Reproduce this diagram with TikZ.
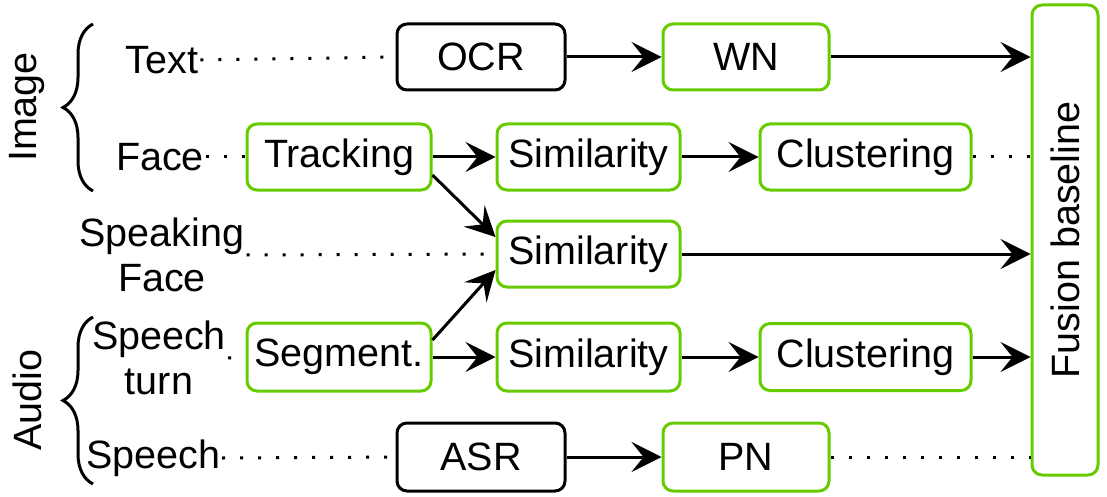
\documentclass[tikz,border=0pt]{standalone}
\usepackage{fontspec}
\setmainfont{Liberation Sans}
\usetikzlibrary{arrows.meta,decorations.pathreplacing}
\definecolor{bgreen}{HTML}{66CC00}
\begin{document}
\begin{tikzpicture}[x=1pt,y=-1pt,
  every node/.style={font=\fontsize{39.5}{45}\selectfont, inner sep=2pt},
  box/.style={draw, line width=3pt, rounded corners=10pt, inner sep=0pt},
  gbox/.style={box, draw=bgreen},
  kbox/.style={box, draw=black},
  arr/.style={line width=3pt, -{Stealth[length=30pt,width=30pt,inset=12pt]}},
  dots/.style={line width=3pt, dash pattern=on 3pt off 15pt},
  brc/.style={decorate, decoration={brace, amplitude=30pt}, line width=3pt}]
\useasboundingbox (0,0) rectangle (1107,497);
% boxes
\node[kbox, minimum width=168pt, minimum height=66pt] (ocr) at (481,57) {OCR};
\node[gbox, minimum width=166pt, minimum height=66pt] (wn) at (746,57) {WN};
\node[gbox, minimum width=184pt, minimum height=66pt] (trk) at (339,157) {Tracking};
\node[gbox, minimum width=183pt, minimum height=66pt] (sim2) at (588.5,157) {Similarity};
\node[gbox, minimum width=211pt, minimum height=66pt] (cl2) at (865.5,157) {Clustering};
\node[gbox, minimum width=183pt, minimum height=66pt] (sim3) at (588.5,254) {Similarity};
\node[gbox, minimum width=184pt, minimum height=68pt] (seg) at (339,357) {Segment.};
\node[gbox, minimum width=183pt, minimum height=68pt] (sim4) at (588.5,357) {Similarity};
\node[gbox, minimum width=211pt, minimum height=67pt] (cl4) at (865.5,357) {Clustering};
\node[kbox, minimum width=168pt, minimum height=68pt] (asr) at (481,457) {ASR};
\node[gbox, minimum width=166pt, minimum height=68pt] (pn) at (746,457) {PN};
\node[gbox, minimum width=66pt, minimum height=470pt] (fus) at (1065,240) {\rotatebox{90}{Fusion baseline}};
% left labels
\node (txt) at (162,60) {Text};
\node (face) at (160,157) {Face};
\node[align=center] (sf) at (162,255) {Speaking\\Face};
\node[align=center] (st) at (159,358) {Speech\\turn};
\node (sp) at (153,458) {Speech};
\node[rotate=90] (img) at (27,107) {Image};
\node[rotate=90] (aud) at (27,400) {Audio};
% braces
\coordinate (ib1) at (93,191);
\coordinate (ib2) at (93,24);
\coordinate (ab1) at (93,484);
\coordinate (ab2) at (93,317);
\draw[brc] (ib1) -- (ib2);
\draw[brc] (ab1) -- (ab2);
% dotted
\draw[dots] (txt.east) -- (ocr.west);
\draw[dots] (face.east) -- (trk.west);
\draw[dots] (sf.east) -- (sim3.west);
\draw[dots] (st.east) -- (seg.west);
\draw[dots] (sp.east) -- (asr.west);
\draw[dots] (cl2.east) -- (cl2.east -| fus.west);
\draw[dots] (pn.east) -- (pn.east -| fus.west);
% arrows
\draw[arr] (ocr) -- (wn);
\draw[arr] (wn.east) -- (wn.east -| fus.west);
\draw[arr] (trk) -- (sim2);
\draw[arr] (sim2) -- (cl2);
\draw[arr] ([yshift=-18pt]trk.east) -- ([yshift=17pt]sim3.west);
\draw[arr] ([yshift=17pt]seg.east) -- ([yshift=-16pt]sim3.west);
\draw[arr] (sim3.east) -- (sim3.east -| fus.west);
\draw[arr] (seg) -- (sim4);
\draw[arr] (sim4) -- (cl4);
\draw[arr] (cl4.east) -- (cl4.east -| fus.west);
\draw[arr] (asr) -- (pn);
\end{tikzpicture}
\end{document}
